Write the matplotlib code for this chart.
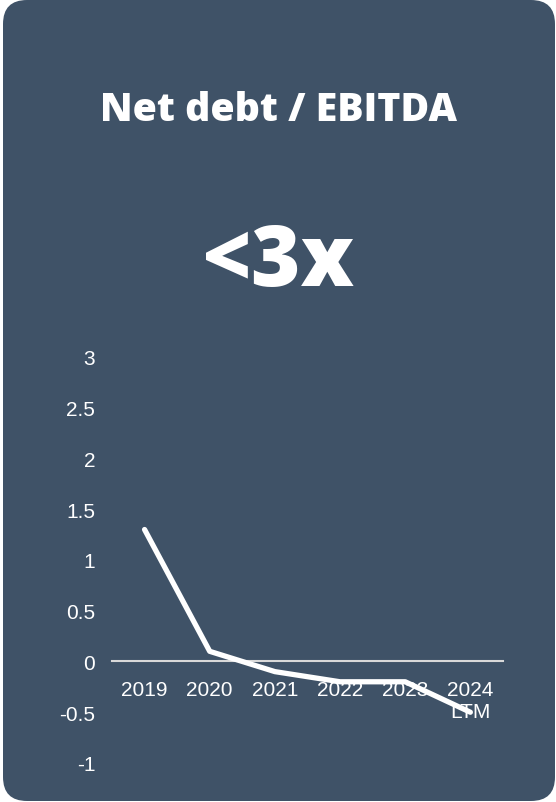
import matplotlib
matplotlib.use('Agg')
import matplotlib.pyplot as plt
from matplotlib.patches import FancyBboxPatch

# data
years = ['2019', '2020', '2021', '2022', '2023', '2024\nLTM']
net_debt_ebitda = [1.3, 0.1, -0.1, -0.2, -0.2, -0.5]
y_ticks = [-1, -0.5, 0, 0.5, 1, 1.5, 2, 2.5, 3]
y_tick_labels = ['-1', '-0.5', '0', '0.5', '1', '1.5', '2', '2.5', '3']

card_color = '#3f5267'

fig = plt.figure(figsize=(5.56, 8.03), dpi=100)
fig.patch.set_facecolor('white')

# rounded card behind everything (pixel coords)
card = FancyBboxPatch((3, 1), 552, 801, boxstyle='round,pad=0,rounding_size=24',
                      transform=None, facecolor=card_color, edgecolor='none', zorder=-10)
fig.patches.append(card)

fig.text(0.5, 0.863, 'Net debt / EBITDA', ha='center', va='center', color='white',
         fontsize=28.3, fontweight='heavy', family='Open Sans')
fig.text(0.5, 0.672, '<3x', ha='center', va='center', color='white',
         fontsize=61, fontweight='heavy', family='Open Sans')

ax = fig.add_axes([0.2014, 0.0486, 0.7032, 0.5056])
ax.set_facecolor('none')
ax.set_zorder(5)

x = list(range(len(years)))
ax.plot(x, net_debt_ebitda, color='white', lw=3.8, solid_capstyle='round',
        solid_joinstyle='round', zorder=3)

ax.set_xlim(-0.5, len(years) - 0.5)
ax.set_ylim(-1, 3)
ax.set_yticks(y_ticks)
ax.set_yticklabels(y_tick_labels)
ax.set_xticks(x)
ax.set_xticklabels(years, linespacing=1.1)

for s in ['top', 'right', 'left']:
    ax.spines[s].set_visible(False)
ax.spines['bottom'].set_position(('data', 0))
ax.spines['bottom'].set_color('#d9d9d9')
ax.spines['bottom'].set_linewidth(1.5)
ax.spines['bottom'].set_zorder(2)

ax.tick_params(axis='both', length=0, colors='white', labelsize=15)
ax.tick_params(axis='x', pad=13)
ax.tick_params(axis='y', pad=12)
for lbl in ax.get_xticklabels() + ax.get_yticklabels():
    lbl.set_family('Liberation Sans')

fig.savefig('out.png', dpi=100, facecolor=fig.get_facecolor())
